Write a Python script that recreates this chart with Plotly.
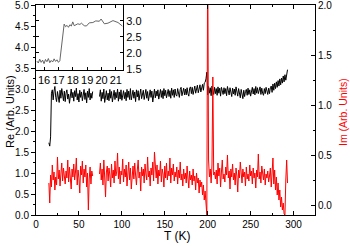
import plotly.graph_objects as go

# ---------------- data ----------------
T_main = list(range(15, 294))

re_vals = (
    [1.72, 1.64, 1.86, 2.90, 2.98, 2.74, 2.95, 3.06, 2.80, 2.70]
    + [2.94, 2.85, 2.68, 2.97, 2.78, 3.01, 2.83, 2.72, 2.95, 2.70]
    + [2.90, 2.98, 2.76, 2.88, 2.66, 2.93, 3.00, 2.79, 2.92, 2.71]
    + [2.96, 2.82, 3.02, 2.74, 2.89, 2.69, 2.97, 2.80, 2.93, 2.72]
    + [2.88, 2.99, 2.75, 2.91, 2.67, 2.95, 2.80, 3.01, 2.74, 2.90]
    + [2.78, 2.94]
    + [None] * 7
    + [2.82, 2.98, 2.71, 2.92, 2.77, 3.00, 2.68, 2.91, 2.96, 2.74]
    + [2.90, 2.72, 2.99, 2.78, 2.94, 2.69, 2.88, 2.97, 2.75, 2.92]
    + [2.79, 3.00, 2.71, 2.93, 2.76, 2.98, 2.73, 2.90, 2.96, 2.77]
    + [2.92, 2.72, 2.99, 2.80, 2.95, 2.75, 3.01, 2.74, 2.90, 2.97]
    + [2.78, 2.93, 2.70, 2.98, 2.81, 2.96, 2.73, 2.91, 3.00, 2.77]
    + [2.90, 2.97, 2.75, 2.93, 2.99, 2.78, 2.94, 2.72, 2.91, 2.98]
    + [2.80, 2.95, 2.69, 2.92, 3.00, 2.79, 2.95, 2.83, 2.98, 2.76]
    + [2.93, 2.99, 2.80, 2.96, 2.77, 3.01, 2.84, 2.97, 2.79, 2.94]
    + [2.99, 2.82, 2.96, 2.78, 3.02, 2.85, 2.98, 2.80, 3.00, 2.86]
    + [2.83, 3.01, 2.87, 2.80, 2.99, 3.04, 2.84, 2.97, 3.02, 2.86]
    + [3.00, 2.86, 3.03, 2.89, 2.83, 3.02, 3.05, 2.89, 3.04, 2.87]
    + [3.02, 3.07, 2.90, 3.04, 3.09, 2.91, 3.06, 3.10, 2.93, 3.08]
    + [3.11, 2.97, 3.14, 3.16, 3.24, 3.40]
    + [2.86, 3.06, 2.90, 3.03, 2.84, 3.07, 2.91, 2.87, 3.04, 2.89]
    + [3.01, 2.85, 3.05, 2.90, 3.02, 2.83, 3.04, 2.91, 2.87, 3.03]
    + [2.89, 3.01, 2.84, 3.06, 2.91, 2.86, 3.03, 2.90, 2.82, 3.02]
    + [2.88, 3.00, 2.85, 3.05, 2.89, 2.83, 3.01, 2.87, 2.79, 2.99]
    + [2.84, 2.77, 2.97, 2.82, 2.94, 2.99, 2.85, 3.02, 2.87, 2.98]
    + [2.83, 3.00, 3.04, 2.88, 3.01, 2.86, 3.06, 2.90, 3.03, 2.89]
    + [3.00, 3.05, 2.87, 3.02, 2.90, 2.85, 3.01, 2.89, 3.04, 2.91]
    + [2.87, 3.02, 2.89, 3.03, 3.07, 2.92, 3.12, 2.97, 3.14, 3.01]
    + [3.17, 3.04, 3.20, 3.07, 3.24, 3.10, 3.26, 3.14, 3.31, 3.17]
    + [3.34, 3.21, 3.42, 3.46]
)

im_vals = (
    [0.22, 0.02, 0.30, 0.18, 0.40, 0.25, 0.33, 0.15, 0.28, 0.20]
    + [0.48, 0.26, 0.35, 0.19, 0.31, 0.42, 0.24, 0.37, 0.29, 0.21]
    + [0.34, 0.27, 0.45, 0.23, 0.38, 0.30, 0.16, 0.36, 0.28, 0.41]
    + [0.25, 0.33, 0.47, 0.20, 0.35, 0.27, 0.12, 0.39, 0.30, 0.44]
    + [0.22, 0.36, 0.28, 0.40, 0.18, 0.32, -0.05, 0.26, 0.38, 0.21]
    + [0.34, 0.29]
    + [None] * 7
    + [0.31, 0.42, 0.25, 0.36, 0.20, 0.45, 0.28, 0.08, 0.33, 0.39]
    + [0.24, 0.37, 0.30, 0.18, 0.41, 0.27, 0.35, 0.22, 0.44, 0.29]
    + [0.33, 0.52, 0.26, 0.38, 0.21, 0.34, 0.30, 0.46, 0.23, 0.36]
    + [0.28, 0.40, 0.19, 0.33, 0.43, 0.25, 0.37, 0.16, 0.31, 0.39]
    + [0.26, 0.42, 0.30, 0.20, 0.35, 0.45, 0.27, 0.33, 0.14, 0.38]
    + [0.29, 0.36, 0.22, 0.41, 0.31, 0.25, 0.48, 0.28, 0.34, 0.19]
    + [0.37, 0.30, 0.43, 0.24, 0.53, 0.32, 0.27, 0.40, 0.21, 0.35]
    + [0.29, 0.44, 0.23, 0.36, 0.31, 0.18, 0.39, 0.27, 0.42, 0.25]
    + [0.34, 0.29, 0.47, 0.22, 0.37, 0.30, 0.41, 0.24, 0.33, 0.28]
    + [0.38, 0.21, 0.35, 0.27, 0.43, 0.25, 0.31, 0.19, 0.36, 0.26]
    + [0.32, 0.22, 0.39, 0.27, 0.17, 0.34, 0.25, 0.30, 0.20, 0.36]
    + [0.24, 0.29, 0.15, 0.32, 0.22, 0.27, 0.12, 0.25, 0.18, 0.23]
    + [0.10, 0.20, 0.05, 0.14, -0.02, -0.10]
    + [2.60, 0.45, 0.28, 0.36, 0.22, 0.40, 1.28, 0.30, 0.33, 0.26]
    + [0.35, 0.21, 0.42, 0.29, 0.37, 0.18, 0.33, 0.45, 0.26, 0.31]
    + [0.23, 0.38, 0.30, 0.50, 0.27, 0.34, 0.16, 0.36, 0.28, 0.41]
    + [0.25, 0.32, 0.20, 0.37, 0.29, 0.13, 0.35, 0.27, 0.43, 0.30]
    + [0.22, 0.36, 0.28, 0.33, 0.19, 0.38, 0.26, 0.31, 0.24, 0.40]
    + [0.29, 0.34, 0.21, 0.37, 0.27, 0.32, 0.17, 0.35, 0.28, 0.51]
    + [0.26, 0.33, 0.22, 0.39, 0.30, 0.25, 0.36, 0.20, 0.31, 0.27]
    + [0.34, 0.23, 0.29, 0.37, 0.18, 0.32, 0.47, 0.21, 0.35, 0.15]
    + [0.28, 0.10, 0.22, 0.05, 0.15, -0.02, 0.08, -0.05, 0.02, -0.09]
    + [-0.10, 0.25, 0.45, 0.22]
)

inset_T = [15.5, 15.6, 15.7, 15.8, 15.9, 16.0, 16.1, 16.2, 16.3, 16.4, 16.5,
           16.6, 16.7, 16.8, 16.9, 17.0, 17.1, 17.2, 17.3, 17.4, 17.5, 17.6,
           17.7, 17.8, 17.9, 18.0, 18.1, 18.2, 18.35, 18.5, 18.6, 18.8, 18.95,
           19.15, 19.4, 19.6, 19.85, 19.97, 20.2, 20.45, 20.8, 21.15, 21.45]
inset_re = [1.74, 1.68, 1.80, 1.70, 1.77, 1.66, 1.79, 1.72, 1.82, 1.69, 1.76,
            1.71, 1.81, 1.73, 1.78, 1.70, 1.75, 2.20, 2.65, 2.90, 2.82, 2.86,
            2.80, 2.88, 2.84, 2.97, 2.85, 2.88, 2.91, 2.89, 2.93, 2.85, 2.84,
            2.94, 2.95, 3.00, 2.99, 3.06, 2.91, 2.93, 3.01, 2.95, 2.84]

x_ticks = [0, 50, 100, 150, 200, 250, 300]
re_ticks = [0.0, 0.5, 1.0, 1.5, 2.0, 2.5, 3.0, 3.5, 4.0, 4.5, 5.0]
im_ticks = [0.0, 0.5, 1.0, 1.5, 2.0]
inset_x_ticks = [16, 17, 18, 19, 20, 21]
inset_y_ticks = [1.5, 2.0, 2.5, 3.0]

x_title = "T (K)"
re_title = "Re (Arb. Units)"
im_title = "Im (Arb. Units)"

# ---------------- figure ----------------
FONT = "Arial, Liberation Sans, sans-serif"
fig = go.Figure()

fig.add_trace(go.Scatter(x=T_main, y=re_vals, mode="lines",
                         line=dict(color="black", width=1),
                         connectgaps=False, xaxis="x", yaxis="y",
                         showlegend=False, hoverinfo="skip"))
fig.add_trace(go.Scatter(x=T_main, y=im_vals, mode="lines",
                         line=dict(color="#ff0000", width=1),
                         connectgaps=False, xaxis="x", yaxis="y2",
                         showlegend=False, hoverinfo="skip"))
fig.add_trace(go.Scatter(x=inset_T, y=inset_re, mode="lines",
                         line=dict(color="#555555", width=0.9),
                         xaxis="x3", yaxis="y3",
                         showlegend=False, hoverinfo="skip"))

axis_common = dict(showgrid=False, zeroline=False, showline=True,
                   linecolor="black", linewidth=1, automargin=False,
                   ticklabeloverflow="allow", tickcolor="black")

# plot area: x 36..315 px, y 5..215 px
L, R, TOP, BOT = 36, 35, 5, 31
PW = 350 - L - R
PH = 246 - TOP - BOT

def px_x(px):
    return (px - L) / PW

def px_y(py):
    return (246 - BOT - py) / PH

fig.update_layout(
    width=350, height=246,
    margin=dict(l=L, r=R, t=TOP, b=BOT),
    paper_bgcolor="white", plot_bgcolor="white",
    font=dict(family=FONT, size=10, color="black"),
    xaxis=dict(**axis_common, range=[0, 325], tickvals=x_ticks,
               ticks="inside", ticklen=4, mirror="ticks",
               minor=dict(ticks="inside", ticklen=2, dtick=25, tick0=0),
               tickfont=dict(size=10),
               domain=[0, 1], anchor="y"),
    yaxis=dict(**axis_common, range=[0, 5], tickvals=re_ticks,
               tickformat=".1f", ticks="outside", ticklen=4,
               minor=dict(ticks="outside", ticklen=2, dtick=0.25, tick0=0),
               tickfont=dict(size=10),
               anchor="x"),
    yaxis2=dict(**axis_common, range=[-0.1, 2.0], tickvals=im_ticks,
                tickformat=".1f", ticks="inside", ticklen=4,
                minor=dict(ticks="inside", ticklen=2, dtick=0.25, tick0=0),
                overlaying="y", side="right", anchor="x",
                tickfont=dict(size=10)),
    xaxis3=dict(**axis_common, domain=[0, 0.312], anchor="y3",
                range=[15.44, 21.5], tickvals=inset_x_ticks,
                ticks="inside", ticklen=3, mirror="ticks",
                tickfont=dict(size=11)),
    yaxis3=dict(**axis_common, domain=[0.692, 1], anchor="x3", side="right",
                range=[1.47, 3.5], tickvals=inset_y_ticks, tickformat=".1f",
                ticks="inside", ticklen=3, mirror="ticks",
                tickfont=dict(size=11)),
    annotations=[
        dict(text=x_title, xref="paper", yref="paper", x=px_x(177), y=px_y(236),
             xanchor="center", yanchor="middle", showarrow=False,
             font=dict(size=12, color="black")),
        dict(text=re_title, xref="paper", yref="paper", x=px_x(10), y=px_y(112),
             xanchor="center", yanchor="middle", showarrow=False, textangle=-90,
             font=dict(size=11, color="black")),
        dict(text=im_title, xref="paper", yref="paper", x=px_x(343), y=px_y(112),
             xanchor="center", yanchor="middle", showarrow=False, textangle=-90,
             font=dict(size=10.5, color="#ff0000")),
    ],
)

fig.write_html("out.html",
               config={"displayModeBar": False},
               post_script="document.body.style.margin='0';document.body.style.padding='0';")
